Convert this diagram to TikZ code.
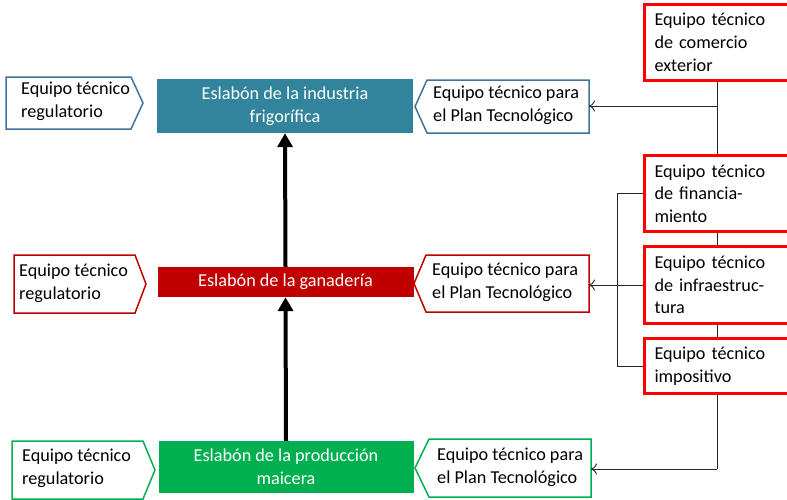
\documentclass[tikz,border=0pt]{standalone}
\usepackage{fontspec}
\setmainfont{Carlito}
\usetikzlibrary{arrows.meta,calc}
\definecolor{cblue}{HTML}{41719C}
\definecolor{cteal}{HTML}{31849B}
\definecolor{cdred}{HTML}{C00000}
\definecolor{cgreen}{HTML}{00B050}
\definecolor{cred}{HTML}{FF0000}
\definecolor{cline}{HTML}{262626}
\begin{document}
\begin{tikzpicture}[x=1pt,y=-1pt,
  every node/.style={font=\fontsize{18.2}{22.7}\selectfont},
  chev/.style={line width=1.5pt, fill=white, line join=miter},
  lbl/.style={anchor=west, align=left, inner sep=0pt, text=black},
  link/.style={fill=#1, text=white, align=center, minimum width=256pt, inner sep=0pt},
  team/.style={draw=cred, line width=3pt, fill=white, anchor=north west, align=left,
    text width=140pt, inner xsep=10pt, inner ysep=0pt, minimum width=160pt},
  conn/.style={draw=cline, line width=0.9pt},
  connarrow/.style={conn, -{To[length=6pt,width=11pt]}},
  flow/.style={line width=4pt, -{Triangle[length=14pt,width=15pt]}}
]
\useasboundingbox (0,0) rectangle (787,499);
\clip (0,0) rectangle (787,499);

% central links
\node[link=cteal, minimum height=54pt] (teal) at (285,106) {Eslabón de la industria\\frigorífica};
\node[link=cdred, minimum height=30pt] (ganad) at (285.5,282) {Eslabón de la ganadería};
\node[link=cgreen, minimum height=52pt, minimum width=255pt] (maiz) at (286,467) {Eslabón de la producción\\maicera};

% thick arrows
\draw[flow] (maiz.north) -- (ganad.south);
\draw[flow] (ganad.north) -- (teal.south);

% left chevrons (regulatory)
\draw[chev, draw=cblue] (6,77) -- (131,77) -- (143,103) -- (131,129) -- (6,129) -- cycle;
\node[lbl] (reg1) at (21,101) {Equipo técnico\\regulatorio};
\draw[chev, draw=cdred] (14,255) -- (135,255) -- (146,284) -- (135,313) -- (14,313) -- cycle;
\node[lbl] (reg2) at (19,283) {Equipo técnico\\regulatorio};
\draw[chev, draw=cgreen] (12,441) -- (143,441) -- (155,470) -- (143,499) -- (12,499) -- cycle;
\node[lbl] (reg3) at (22,468) {Equipo técnico\\regulatorio};

% right chevrons (plan tecnologico)
\draw[chev, draw=cblue] (589,80) -- (427,80) -- (415,106.5) -- (427,133) -- (589,133) -- cycle;
\coordinate (pt1) at (589,106);
\node[lbl] (plan1) at (433,105) {Equipo técnico para\\el Plan Tecnológico};
\draw[chev, draw=cdred] (589,255) -- (426,255) -- (414,283.5) -- (426,312) -- (589,312) -- cycle;
\coordinate (pt2) at (589,283.5);
\node[lbl] (plan2) at (432,282) {Equipo técnico para\\el Plan Tecnológico};
\draw[chev, draw=cgreen] (591,439) -- (429,439) -- (415,468) -- (429,497) -- (591,497) -- cycle;
\coordinate (pt3) at (591,469);
\node[lbl] (plan3) at (437,467) {Equipo técnico para\\el Plan Tecnológico};

% right teams
\node[team, minimum height=76pt] (comex) at (643,3) {Equipo técnico\\de comercio\\exterior};
\node[team, minimum height=76pt] (finan) at (643,154) {Equipo técnico\\de financia-\\miento};
\node[team, minimum height=77pt] (infra) at (643,245) {Equipo técnico\\de infraestruc-\\tura};
\node[team, minimum height=55pt] (impo) at (643,337) {Equipo técnico\\impositivo};

% connectors
\coordinate (j1) at (717,106);
\draw[conn] (717,0 |- comex.south) -- (717,0 |- finan.north);
\draw[connarrow] (j1) -- (pt1);
\draw[conn] (717,0 |- finan.south) -- (717,0 |- infra.north);
\draw[conn] (717,0 |- infra.south) -- (717,0 |- impo.north);
\coordinate (j3) at (717,469);
\draw[conn] (717,0 |- impo.south) -- (j3);
\draw[connarrow] (j3) -- (pt3);
\draw[conn] (finan.west) -- (617,0 |- finan.west) -- (617,0 |- impo.west) -- (impo.west);
\draw[connarrow] (infra.west) -- (infra.west -| pt2);
\end{tikzpicture}
\end{document}
